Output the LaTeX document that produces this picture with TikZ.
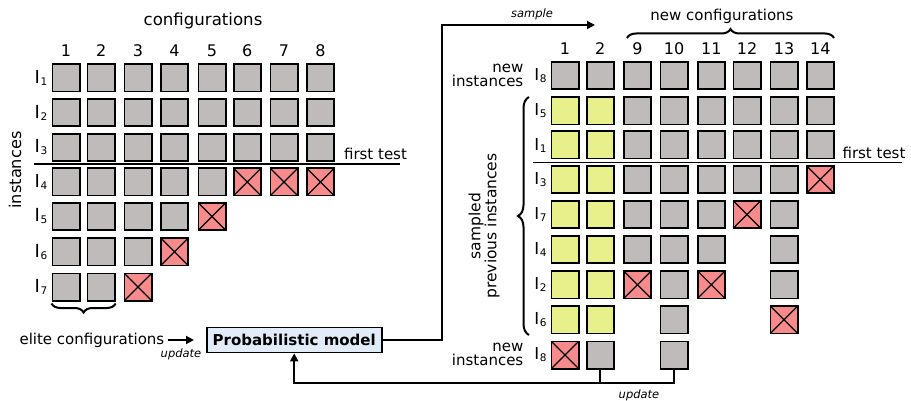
\documentclass[tikz,border=0pt]{standalone}
\usepackage{fontspec}
\setmainfont{DejaVu Sans}
\usetikzlibrary{arrows.meta,decorations.pathreplacing}
\definecolor{cgray}{HTML}{BEBBBA}
\definecolor{cred}{HTML}{F78B8B}
\definecolor{cyel}{HTML}{E8F08C}
\definecolor{cblue}{HTML}{E2ECF9}
\newcommand\Ilab[2]{{\fontsize{#1}{18}\selectfont I}\kern0.6pt\raisebox{-2pt}{\fontsize{10.5}{12}\selectfont #2}}
\begin{document}
\begin{tikzpicture}[x=1pt,y=-1pt,
  cellbase/.style={draw,line width=1.7pt,minimum size=27.3pt,inner sep=0pt},
  cellg/.style={cellbase,fill=cgray},
  celly/.style={cellbase,fill=cyel},
  cellr/.style={cellbase,fill=cred,path picture={\draw[line width=1.2pt]
     (path picture bounding box.south west) -- (path picture bounding box.north east)
     (path picture bounding box.north west) -- (path picture bounding box.south east);}},
  lbl/.style={font=\fontsize{15}{18}\selectfont,inner sep=0pt},
  dig/.style={font=\fontsize{16}{18}\selectfont,inner sep=0pt},
  small/.style={font=\fontsize{11.5}{13}\selectfont\itshape,inner sep=0pt},
  conn/.style={line width=1.8pt},
  arr/.style={line width=1.8pt,-{Triangle[length=8pt,width=8pt]}},
  brc/.style={line width=2pt,decorate,decoration={brace,amplitude=9pt}}]
\useasboundingbox (0,0) rectangle (911,401);
% ---------------- left grid ----------------
\def\LX{{66,101.2,138,174.5,212,247.3,284,320.5}}
\node[lbl,font=\fontsize{16.6}{19}\selectfont] (conf) at (203,21) {configurations};
\foreach \c in {1,...,8}{
  \pgfmathsetmacro\xx{\LX[\c-1]}
  \node[dig] (LC-\c) at (\xx,51) {\c};
}
\foreach \r/\y/\lab/\cells in {
  1/78/1/{1/g,2/g,3/g,4/g,5/g,6/g,7/g,8/g},
  2/112.7/2/{1/g,2/g,3/g,4/g,5/g,6/g,7/g,8/g},
  3/147.5/3/{1/g,2/g,3/g,4/g,5/g,6/g,7/g,8/g},
  4/182/4/{1/g,2/g,3/g,4/g,5/g,6/r,7/r,8/r},
  5/216.5/5/{1/g,2/g,3/g,4/g,5/r},
  6/251.7/6/{1/g,2/g,3/g,4/r},
  7/287/7/{1/g,2/g,3/r}}{
  \node[lbl] (LR-\r) at (41,\y) {\Ilab{18}{\lab}};
  \foreach \c/\t in \cells {
    \pgfmathsetmacro\xx{\LX[\c-1]}
    \node[cell\t] (L-\r-\c) at (\xx,\y) {};
  }
}
\node[lbl,rotate=90,font=\fontsize{16.2}{18}\selectfont] (inst) at (15,170) {instances};
\coordinate (ftL1) at (34,164);
\coordinate (ftL2) at (400,164);
\draw[conn] (ftL1) -- (ftL2);
\node[lbl] (ftLt) at (375.5,154) {first test};
\path (L-7-2.south east) ++(0,2) coordinate (b1);
\path (L-7-1.south west) ++(0,2) coordinate (b2);
\draw[brc] (b1) -- (b2);
% ---------------- model ----------------
\node[lbl,font=\fontsize{15}{18}\selectfont\bfseries,draw,line width=1.7pt,fill=cblue,
  minimum width=175pt,minimum height=25pt] (pm) at (294.2,340) {Probabilistic model};
\node[lbl,anchor=east] (elite) at (164.5,340) {elite configurations};
\coordinate (ea) at (194,340);
\draw[arr] (elite.east) ++(3,0) -- (ea);
\node[small] (upd1) at (181,354) {update};
% ---------------- right grid ----------------
\def\RX{{565,600.3,637.5,674,711.3,747,784,820.3}}
\node[lbl] (nconf) at (722,16) {new configurations};
\foreach \c/\l in {1/1,2/2,3/9,4/10,5/11,6/12,7/13,8/14}{
  \pgfmathsetmacro\xx{\RX[\c-1]}
  \node[dig] (RC-\c) at (\xx,49) {\l};
}
\foreach \r/\y/\lab/\cells in {
  1/75.5/8/{1/g,2/g,3/g,4/g,5/g,6/g,7/g,8/g},
  2/111/5/{1/y,2/y,3/g,4/g,5/g,6/g,7/g,8/g},
  3/145/1/{1/y,2/y,3/g,4/g,5/g,6/g,7/g,8/g},
  4/179.5/3/{1/y,2/y,3/g,4/g,5/g,6/g,7/g,8/r},
  5/214.5/7/{1/y,2/y,3/g,4/g,5/g,6/r,7/g},
  6/249.5/4/{1/y,2/y,3/g,4/g,5/g,7/g},
  7/284.7/2/{1/y,2/y,3/r,4/g,5/r,7/g},
  8/319.8/6/{1/y,2/y,4/g,7/r},
  9/355/8/{1/r,2/g,4/g}}{
  \node[lbl] (RR-\r) at (540.5,\y) {\Ilab{16.5}{\lab}};
  \foreach \c/\t in \cells {
    \pgfmathsetmacro\xx{\RX[\c-1]}
    \node[cell\t] (R-\r-\c) at (\xx,\y) {};
  }
}
\node[lbl,align=right,anchor=east,font=\fontsize{15}{14}\selectfont] (newi1) at (523.5,75) {new\\instances};
\node[lbl,align=right,anchor=east,font=\fontsize{15}{14}\selectfont] (newi2) at (523.5,354.5) {new\\instances};
\node[lbl,rotate=90,align=center,font=\fontsize{15.5}{15}\selectfont] (spi) at (484,226) {sampled\\previous instances};
\coordinate (ftR1) at (533,162.5);
\coordinate (ftR2) at (902,162.5);
\draw[conn] (ftR1) -- (ftR2);
\node[lbl] (ftRt) at (874,153) {first test};
\coordinate (tb1) at (627,38);
\coordinate (tb2) at (834,38);
\draw[brc] (tb1) -- (tb2);
\coordinate (sb1) at (529,97);
\coordinate (sb2) at (529,335);
\draw[brc,decoration={brace,amplitude=11pt}] (sb2) -- (sb1);
% ---------------- connectors ----------------
\coordinate (sa) at (595,25);
\draw[arr] (pm.east) -| (441.7,25) -- (sa);
\node[small] (samp) at (532,14) {sample};
\draw[conn] (R-9-2.south) -- ++(0,13.5) coordinate (u1);
\draw[arr] (R-9-4.south) -- ++(0,13.5) -| (pm.south);
\node[small] (upd2) at (639,395) {update};
\end{tikzpicture}
\end{document}
